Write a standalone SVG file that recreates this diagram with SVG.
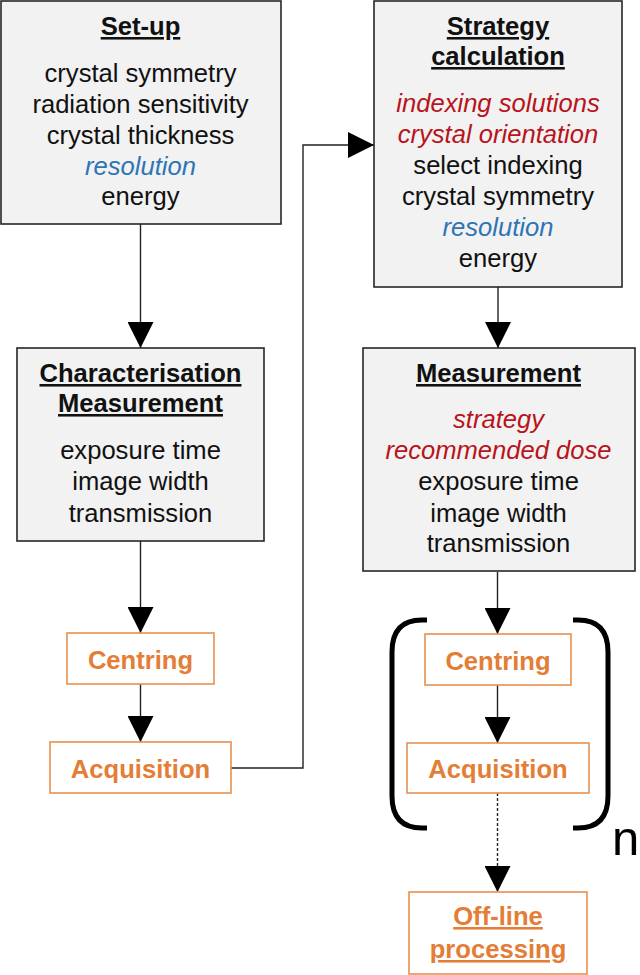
<svg xmlns="http://www.w3.org/2000/svg" width="640" height="975" viewBox="0 0 640 975">
<style>
.box{fill:#f2f2f2;stroke:#262626;stroke-width:1.6}
.obox{fill:#ffffff;stroke:#e8904e;stroke-width:1.6}
text{font-family:"Liberation Sans",Arial,sans-serif;font-size:25.6px;text-anchor:middle;fill:#111}
.t{font-weight:bold;text-decoration:underline}
.o{font-weight:bold;fill:#e47d35}
.r{font-style:italic;fill:#b8141c}
.b{font-style:italic;fill:#2e75b6}
.c{fill:none;stroke:#222;stroke-width:1.4}
.d{stroke-dasharray:3 2}
.br{fill:none;stroke:#000;stroke-width:5}
</style>
<defs>
<marker id="ah" markerUnits="userSpaceOnUse" markerWidth="26" markerHeight="26" refX="24" refY="12" orient="auto" viewBox="0 0 24 24">
<path d="M0,0 L24,12 L0,24 z" fill="#000"/>
</marker>
</defs>
<g id="connectors">
<path class="c" d="M140.5 224 L140.5 348" marker-end="url(#ah)"/>
<path class="c" d="M140.5 541 L140.5 633" marker-end="url(#ah)"/>
<path class="c" d="M140.5 684 L140.5 742" marker-end="url(#ah)"/>
<path class="c" d="M231 768 L303 768 L303 145 L374 145" marker-end="url(#ah)"/>
<path class="c" d="M498 287 L498 348" marker-end="url(#ah)"/>
<path class="c" d="M497.5 572 L497.5 634" marker-end="url(#ah)"/>
<path class="c" d="M497.5 685 L497.5 743" marker-end="url(#ah)"/>
<path class="c d" d="M497.5 793 L497.5 892" marker-end="url(#ah)"/>
</g>
<g id="setup">
<rect class="box" x="1" y="1" width="280" height="223"/>
<text class="t" x="140.5" y="35">Set-up</text>
<text x="140.5" y="82">crystal symmetry</text>
<text x="140.5" y="113">radiation sensitivity</text>
<text x="140.5" y="144">crystal thickness</text>
<text class="b" x="140.5" y="175">resolution</text>
<text x="140.5" y="205">energy</text>
</g>
<g id="characterisation">
<rect class="box" x="17" y="348" width="247" height="193"/>
<text class="t" x="140.5" y="382">Characterisation</text>
<text class="t" x="140.5" y="412">Measurement</text>
<text x="140.5" y="459">exposure time</text>
<text x="140.5" y="490">image width</text>
<text x="140.5" y="522">transmission</text>
</g>
<g id="centring1">
<rect class="obox" x="67" y="633" width="147" height="51"/>
<text class="o" x="140.5" y="669">Centring</text>
</g>
<g id="acquisition1">
<rect class="obox" x="50" y="742" width="181" height="51"/>
<text class="o" x="140.5" y="778">Acquisition</text>
</g>
<g id="strategy">
<rect class="box" x="374" y="1" width="248" height="286"/>
<text class="t" x="498" y="35">Strategy</text>
<text class="t" x="498" y="65">calculation</text>
<text class="r" x="498" y="112">indexing solutions</text>
<text class="r" x="498" y="143">crystal orientation</text>
<text x="498" y="174">select indexing</text>
<text x="498" y="205">crystal symmetry</text>
<text class="b" x="498" y="236">resolution</text>
<text x="498" y="267">energy</text>
</g>
<g id="measurement">
<rect class="box" x="363" y="348" width="272" height="223"/>
<text class="t" x="498.5" y="382">Measurement</text>
<text class="r" x="498.5" y="428">strategy</text>
<text class="r" x="498.5" y="459">recommended dose</text>
<text x="498.5" y="490">exposure time</text>
<text x="498.5" y="522">image width</text>
<text x="498.5" y="552">transmission</text>
</g>
<g id="centring2">
<rect class="obox" x="425" y="634" width="146" height="51"/>
<text class="o" x="498" y="670">Centring</text>
</g>
<g id="acquisition2">
<rect class="obox" x="407" y="743" width="182" height="50"/>
<text class="o" x="498" y="778">Acquisition</text>
</g>
<g id="repeat">
<path class="br" d="M427 620 L422 620 Q392 620 392 652 L392 796 Q392 828 422 828 L427 828"/>
<path class="br" d="M573 620 L578 620 Q608 620 608 652 L608 796 Q608 828 578 828 L573 828"/>
<text x="612" y="855" style="font-size:49px;fill:#000;text-anchor:start">n</text>
</g>
<g id="offline">
<rect class="obox" x="409" y="892" width="178" height="82"/>
<text class="o" x="498" y="925" style="text-decoration:underline">Off-line</text>
<text class="o" x="498" y="958" style="text-decoration:underline">processing</text>
</g>
</svg>
